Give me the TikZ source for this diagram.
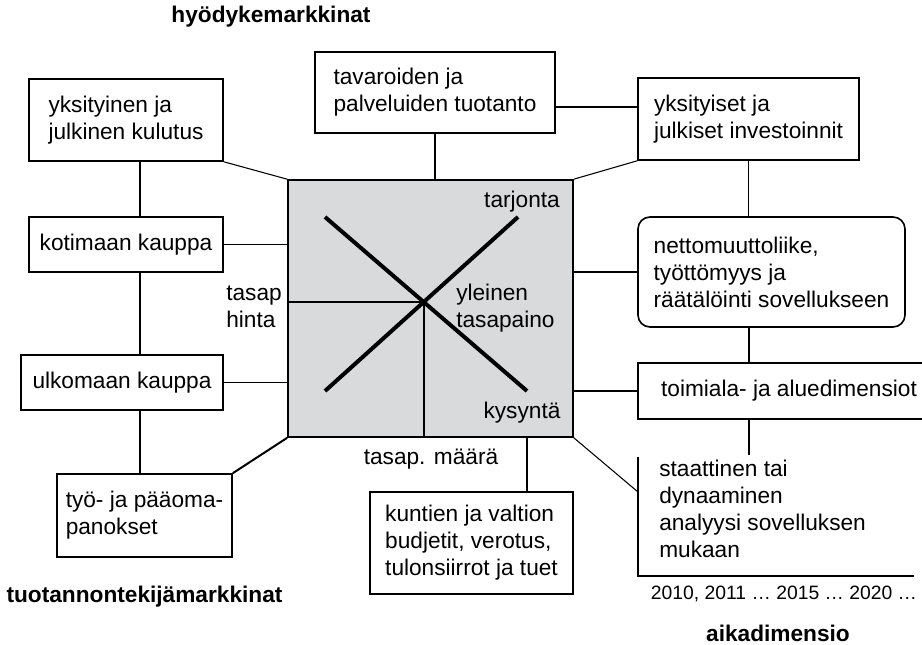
\documentclass[tikz,border=0pt]{standalone}
\usepackage{fontspec}
\setmainfont{Liberation Sans}
\definecolor{markkinaharmaa}{RGB}{217,218,220}
\tikzset{
  laatikko/.style={draw, line width=1.2pt, align=left},
  yhteys/.style={line width=0.8pt},
  paksu/.style={line width=1.5pt},
  otsikko/.style={font=\fontsize{17}{20.3}\selectfont\bfseries},
}

\begin{document}
\begin{tikzpicture}[x=0.75pt, y=-0.75pt,
    every node/.style={font=\fontsize{17}{20.3}\selectfont, inner sep=0pt}]
  \useasboundingbox (0,0) rectangle (922,645);

  % markkinat
  \node[laatikko, fill=markkinaharmaa, minimum width=213.75pt, minimum height=192.75pt](markkina) at (430.5,308.5) {};
  \coordinate (tasap) at (424,302);
  \draw[yhteys] (markkina.west |- tasap) -- (tasap) -- (tasap |- markkina.south);
  \draw[line width=3pt] (325,217) -- (527,391);
  \draw[line width=3pt] (325,391) -- (518,217);
  \node(tarjonta) at (522,202) {tarjonta};
  \node(kysynta) at (522,413) {kysyntä};
  \node[align=left, anchor=west](yleinen) at (456,308) {yleinen\\tasapaino};
  \node[align=left, anchor=west](hinta) at (226,306.5) {tasap\\hinta};
  \node(maara) at (431,459) {tasap. määrä};

  \node[otsikko](hyodyke) at (271,17) {hyödykemarkkinat};
  \node[otsikko](tekija) at (144.5,597) {tuotannontekijämarkkinat};
  \node[otsikko](aika) at (778,633) {aikadimensio};
  \node[font=\fontsize{14.5}{17.4}\selectfont](vuodet) at (784,594) {2010, 2011 … 2015 … 2020 …};

  \node[laatikko, minimum width=180pt, minimum height=60.75pt](tuotanto) at (435,92.5) {tavaroiden ja\\palveluiden tuotanto};
  \node[laatikko, minimum width=145.5pt, minimum height=61.5pt](kulutus) at (126,120) {yksityinen ja\\julkinen kulutus};
  \node[laatikko, minimum width=165.75pt, minimum height=61.5pt](investoinnit) at (748.5,119) {yksityiset ja\\julkiset investoinnit};
  \node[laatikko, minimum width=145.5pt, minimum height=41.25pt](kotimaan) at (126,244.5) {kotimaan kauppa};
  \node[laatikko, minimum width=151.5pt, minimum height=41.25pt](ulkomaan) at (122,382.5) {ulkomaan kauppa};
  \node[laatikko, minimum width=131.25pt, minimum height=62.25pt](tyo) at (144.5,515.5) {työ- ja pääoma-\\panokset};
  \node[laatikko, minimum width=152.25pt, minimum height=76.5pt](budjetit) at (471.5,543) {kuntien ja valtion\\budjetit, verotus,\\tulonsiirrot ja tuet};
  \node[laatikko, rounded corners=9pt, minimum width=200.25pt, minimum height=82.5pt](netto) at (771.5,272) {nettomuuttoliike,\\työttömyys ja\\räätälöinti sovellukseen};
  \node[laatikko, minimum width=226.5pt, minimum height=42pt](toimiala) at (789,391) {toimiala- ja aluedimensiot};
  \node[align=left, anchor=west](analyysi) at (659,509) {staattinen tai\\dynaaminen\\analyysi sovelluksen\\mukaan};

  \coordinate (vasen) at (140,0);
  \coordinate (oikea) at (749,0);
  \coordinate (budjettiliitos) at (527,0);
  \coordinate (analyysiylä) at (638,457);
  \coordinate (analyysiliitos) at (638,492);
  \coordinate (analyysikulma) at (638,576);
  \coordinate (analyysiloppu) at (914,576);

  \draw[yhteys] (tuotanto.south) -- (tuotanto.south |- markkina.north);
  \draw[yhteys] (tuotanto.east |- 0,107) -- (investoinnit.west |- 0,107);
  \draw[yhteys] (kulutus.south east) -- (markkina.north west);
  \draw[yhteys] (investoinnit.south west) -- (markkina.north east);
  \draw[yhteys] (kulutus.south -| vasen) -- (kotimaan.north -| vasen);
  \draw[yhteys] (kotimaan.east) -- (kotimaan.east -| markkina.west);
  \draw[yhteys] (kotimaan.south -| vasen) -- (ulkomaan.north -| vasen);
  \draw[yhteys] (ulkomaan.east) -- (ulkomaan.east -| markkina.west);
  \draw[paksu] (ulkomaan.south -| vasen) -- (tyo.north -| vasen);
  \draw[paksu] (tyo.north east) -- (markkina.south west);
  \draw[paksu] (markkina.south -| budjettiliitos) -- (budjetit.north -| budjettiliitos);
  \draw[yhteys] (netto.west -| markkina.east) -- (netto.west);
  \draw[yhteys] (investoinnit.south) -- (investoinnit.south |- netto.north);
  \draw[yhteys] (netto.south -| oikea) -- (toimiala.north -| oikea);
  \draw[yhteys] (toimiala.west -| markkina.east) -- (toimiala.west);
  \draw[yhteys] (toimiala.south -| oikea) -- (oikea |- 0,455);
  \draw[yhteys] (markkina.south east) -- (analyysiliitos);
  \draw[yhteys] (analyysiylä) -- (analyysikulma) -- (analyysiloppu);
\end{tikzpicture}
\end{document}
